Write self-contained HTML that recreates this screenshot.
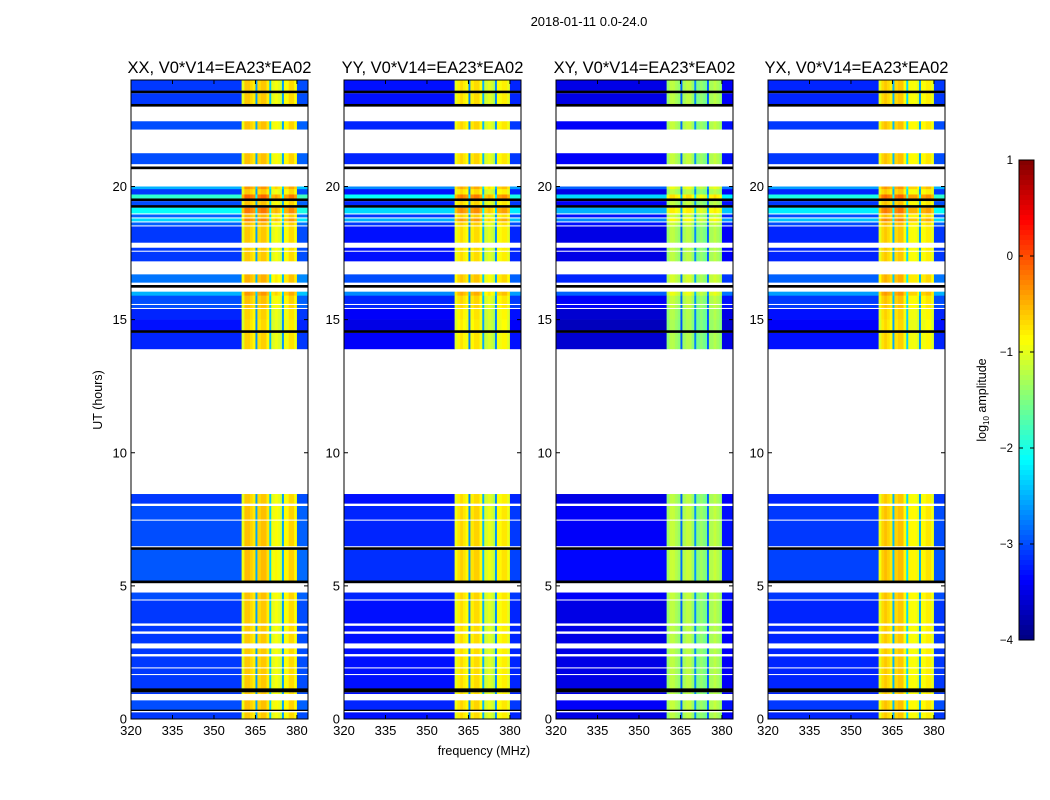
<!DOCTYPE html>
<html><head><meta charset="utf-8">
<style>
body{margin:0;background:#fff;width:1050px;height:800px;overflow:hidden}
svg{display:block;font-family:"Liberation Sans","DejaVu Sans",sans-serif}
</style></head>
<body>
<svg id="fig" width="1050" height="800" viewBox="0 0 1050 800">
<text x="589" y="26" font-size="13" text-anchor="middle">2018-01-11 0.0-24.0</text>
<text x="484" y="755" font-size="12.5" text-anchor="middle">frequency (MHz)</text>
<text transform="translate(102,400) rotate(-90)" font-size="12.5" text-anchor="middle">UT (hours)</text>
<text transform="translate(986,400) rotate(-90)" font-size="12.5" text-anchor="middle">log<tspan font-size="8" dy="3">10</tspan><tspan dy="-3"> amplitude</tspan></text>
<g id="panels"></g>
<g id="cbar"></g>
</svg>
<script>
// ---- data ----
const panelTitles = ["XX, V0*V14=EA23*EA02","YY, V0*V14=EA23*EA02","XY, V0*V14=EA23*EA02","YX, V0*V14=EA23*EA02"];
const freqEdges = [320,360,361,362,363,364,365,365.7,367,368,369,370,370.7,372,373,374,374.6,375.3,377,378,379,380,384];
const profXX = [-3.1,-1.0,-0.6,-0.6,-0.7,-0.8,-2.6,-0.7,-0.6,-0.6,-0.8,-2.4,-1.0,-0.9,-1.0,-1.2,-2.6,-0.9,-0.7,-0.7,-0.9,-3.0];
const profYY = [-3.3,-1.0,-0.8,-0.7,-0.8,-0.9,-2.7,-0.8,-0.7,-0.7,-0.9,-2.5,-1.1,-1.0,-1.1,-1.3,-2.7,-0.9,-0.8,-0.8,-1.0,-3.2];
const profXY = [-3.5,-1.4,-1.2,-1.2,-1.3,-1.4,-2.9,-1.3,-1.2,-1.2,-1.4,-2.7,-1.5,-1.4,-1.5,-1.6,-2.9,-1.3,-1.2,-1.3,-1.4,-3.4];
const profYX = [-3.2,-1.0,-0.7,-0.6,-0.7,-0.8,-2.5,-0.7,-0.6,-0.6,-0.9,-2.3,-0.9,-0.9,-0.9,-1.1,-2.6,-0.9,-0.8,-0.8,-1.0,-3.1];
const profiles = [profXX, profYY, profXY, profYX];
// time segments: start hour, end hour, type (d=data,w=flagged white,k=black), offset
const segStart = [24,23.6,23.5,23.1,23.0,22.45,22.15,21.25,20.85,20.75,20.65,20.0,19.9,19.7,19.55,19.45,19.3,19.2,19.0,18.95,18.85,18.8,18.7,18.65,18.55,18.5,17.9,17.7,17.6,17.55,17.2,16.7,16.4,16.3,16.2,16.05,15.9,15.6,15.55,15.45,15.4,15.0,14.6,14.5,13.9,8.45,8.1,8.0,7.5,7.45,6.5,6.45,6.35,5.2,5.1,4.75,4.5,4.45,3.6,3.5,3.3,3.2,2.85,2.65,2.45,2.35,1.95,1.9,1.7,1.65,1.15,1.0,0.95,0.7,0.35,0.3,0.25];
const segEnd   = [23.6,23.5,23.1,23.0,22.45,22.15,21.25,20.85,20.75,20.65,20.0,19.9,19.7,19.55,19.45,19.3,19.2,19.0,18.95,18.85,18.8,18.7,18.65,18.55,18.5,17.9,17.7,17.6,17.55,17.2,16.7,16.4,16.3,16.2,16.05,15.9,15.6,15.55,15.45,15.4,15.0,14.6,14.5,13.9,8.45,8.1,8.0,7.5,7.45,6.5,6.45,6.35,5.2,5.1,4.75,4.5,4.45,3.6,3.5,3.3,3.2,2.85,2.65,2.45,2.35,1.95,1.9,1.7,1.65,1.15,1.0,0.95,0.7,0.35,0.3,0.25,0];
const segType  = ["d","k","d","k","w","d","w","d","w","k","w","d","d","d","k","d","k","d","w","d","w","d","w","d","w","d","w","d","w","d","w","d","w","k","w","d","d","w","d","w","d","d","k","d","w","d","w","d","w","d","w","k","d","k","w","d","w","d","w","d","w","d","w","d","w","d","w","d","w","d","k","d","w","d","k","w","d"];
const segOffset= [0,0,0,0,0,0.1,0,0.1,0,0,0,0.6,0,1.2,0,0.1,0,1.0,0,0.2,0,0.8,0,0.2,0,0,0,0,0,0,0,0.3,0,0,0,0.6,0.1,0,0.1,0,-0.1,-0.2,0,-0.1,0,0,0,0.1,0,0.1,0,0,0.15,0,0,0.1,0,0,0,0,0,0,0,0,0,0,0,0,0,0,0,0,0,0.1,0,0,0];
const xTicks = [320,335,350,365,380];
const yTicks = [0,5,10,15,20];
const cbTicks = [1,0,-1,-2,-3,-4];

const panelLeft = [131,344,556,768];
const PW = 177, PT = 80, PB = 719;
const NS = "http://www.w3.org/2000/svg";
function jet(v){ // v in -4..1
  let t=(v+4)/5; t=Math.max(0,Math.min(1,t));
  const r=Math.max(0,Math.min(1,1.5-Math.abs(4*t-3)));
  const g=Math.max(0,Math.min(1,1.5-Math.abs(4*t-2)));
  const b=Math.max(0,Math.min(1,1.5-Math.abs(4*t-1)));
  return `rgb(${Math.round(r*255)},${Math.round(g*255)},${Math.round(b*255)})`;
}
function mk(tag,attrs,parent){const e=document.createElementNS(NS,tag);for(const k in attrs)e.setAttribute(k,attrs[k]);parent.appendChild(e);return e;}
const yScale = h => PB - (h/24)*(PB-PT);
const root = document.getElementById('panels');
profiles.forEach((prof,pi)=>{
  const L = panelLeft[pi];
  const xScale = f => L + (f-320)/(384-320)*PW;
  const g = mk('g',{},root);
  
  
  for(let s=0;s<segStart.length;s++){
    const y0=yScale(segStart[s]), y1=yScale(segEnd[s]);
    if(segType[s]==='w') continue;
    if(segType[s]==='k'){
      const r=mk('rect',{x:L,y:y0,width:PW,height:Math.max(1,y1-y0),fill:'#000'},g);
      
      
      continue;
    }
    for(let c=0;c<prof.length;c++){
      const x0=xScale(freqEdges[c]), x1=xScale(freqEdges[c+1]);
      const v = prof[c] + segOffset[s]*(c===0||c===prof.length-1?1:0.4);
      const r=mk('rect',{x:x0,y:y0,width:x1-x0+0.3,height:y1-y0+0.3,fill:jet(v)},g);
      
      
    }
  }
  const fr=mk('rect',{x:L,y:PT,width:PW,height:PB-PT,fill:'none',stroke:'#000','stroke-width':1},g);
  
  
  const t=mk('text',{x:L+PW/2,y:PT-7,'font-size':16.5,'text-anchor':'middle'},g);
  t.textContent=panelTitles[pi];
  
  
  xTicks.forEach(f=>{
    const x=xScale(f);
    mk('line',{x1:x,x2:x,y1:PB,y2:PB-4,stroke:'#000'},g);
    mk('line',{x1:x,x2:x,y1:PT,y2:PT+4,stroke:'#000'},g);
    const tl=mk('text',{x:x,y:PB+16,'font-size':13,'text-anchor':'middle'},g);
    tl.textContent=f;
    
    
  });
  yTicks.forEach(h=>{
    const y=yScale(h);
    mk('line',{x1:L,x2:L+4,y1:y,y2:y,stroke:'#000'},g);
    mk('line',{x1:L+PW,x2:L+PW-4,y1:y,y2:y,stroke:'#000'},g);
    const tl=mk('text',{x:L-4,y:y+4.5,'font-size':13,'text-anchor':'end'},g);
    tl.textContent=h;
    
    
  });
});
// colorbar
const cb=document.getElementById('cbar');


const CT=160,CB=640,CL=1019,CW=15;
for(let i=0;i<96;i++){
  const v=1-5*(i+0.5)/96;
  mk('rect',{x:CL,y:CT+i*(CB-CT)/96,width:CW,height:(CB-CT)/96+0.5,fill:jet(v)},cb);
}
mk('rect',{x:CL,y:CT,width:CW,height:CB-CT,fill:'none',stroke:'#000'},cb);
cbTicks.forEach(v=>{
  const y=CT+(1-v)/5*(CB-CT);
  mk('line',{x1:CL,x2:CL+4,y1:y,y2:y,stroke:'#000'},cb);
  mk('line',{x1:CL+CW,x2:CL+CW-4,y1:y,y2:y,stroke:'#000'},cb);
  const tl=mk('text',{x:CL-6,y:y+4,'font-size':11.5,'text-anchor':'end'},cb);
  tl.textContent=v<0?'\u2212'+(-v):String(v);
  
  
});
</script>
</body></html>
